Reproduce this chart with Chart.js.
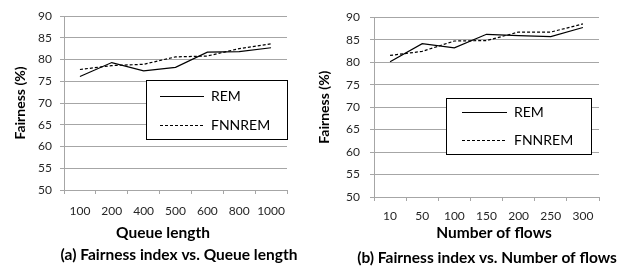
<!DOCTYPE html>
<html>
<head>
<meta charset="utf-8">
<script src="https://cdn.jsdelivr.net/npm/chart.js@4.4.1/dist/chart.umd.min.js"></script>
<style>
  body { margin: 0; background: #fff; }
  .wrap { position: absolute; top: 0; width: 313px; height: 266px; }
</style>
</head>
<body>
<div class="wrap" style="left:0"><canvas id="chartQueue"></canvas></div>
<div class="wrap" style="left:313px"><canvas id="chartFlows"></canvas></div>
<script>
// Data
const queueLengths = ["100", "200", "400", "500", "600", "800", "1000"];
const remByQueue = [76.1, 79.3, 77.4, 78.2, 81.7, 81.8, 82.7];
const fnnremByQueue = [77.7, 78.6, 78.9, 80.6, 80.8, 82.5, 83.6];

const flowCounts = ["10", "50", "100", "150", "200", "250", "300"];
const remByFlows = [80.1, 84.1, 83.2, 86.2, 85.9, 85.7, 87.7];
const fnnremByFlows = [81.5, 82.4, 84.7, 84.8, 86.7, 86.7, 88.5];

const yTicks = [50, 55, 60, 65, 70, 75, 80, 85, 90];

const gridColor = "#a6a6a6";
const fontFamily = "Lato, 'Open Sans', sans-serif";

// Bordered legend drawn inside the plot area
const boxLegend = {
    id: "boxLegend",
    afterDatasetsDraw(chart, args, opts) {
        const ctx = chart.ctx;
        ctx.save();
        ctx.fillStyle = "#fff";
        ctx.fillRect(opts.x, opts.y, opts.w, opts.h);
        ctx.strokeStyle = "#000";
        ctx.lineWidth = 1;
        ctx.strokeRect(opts.x + 0.5, opts.y + 0.5, opts.w, opts.h);
        chart.data.datasets.forEach((ds, i) => {
            let ly = opts.y + opts.firstRow + i * opts.rowGap + 0.5;
            ctx.beginPath();
            ctx.setLineDash(ds.borderDash || []);
            ctx.lineWidth = ds.borderWidth;
            ctx.moveTo(opts.x + opts.lineX, ly);
            ctx.lineTo(opts.x + opts.lineX + opts.lineLen, ly);
            ctx.stroke();
            ctx.setLineDash([]);
            ctx.fillStyle = "#000";
            ctx.font = "14px " + fontFamily;
            ctx.textBaseline = "middle";
            ctx.fillText(ds.label, opts.x + opts.lineX + opts.lineLen + 7, ly);
        });
        ctx.restore();
    }
};

// x-axis title and sub-figure caption, placed like in the original figure
const bottomTexts = {
    id: "bottomTexts",
    afterDraw(chart, args, opts) {
        const ctx = chart.ctx;
        ctx.save();
        ctx.fillStyle = "#000";
        ctx.textAlign = "center";
        ctx.textBaseline = "middle";
        opts.items.forEach(item => {
            ctx.font = "bold " + item.size + "px " + fontFamily;
            ctx.fillText(item.text, item.x, item.y);
        });
        ctx.restore();
    }
};

let makeChart = (id, labels, rem, fnnrem, cfg) => {
    const ctx = document.getElementById(id).getContext("2d");
    return new Chart(ctx, {
        type: "line",
        data: {
            labels: labels,
            datasets: [
                { label: "REM", data: rem, borderColor: "#000", borderWidth: 1.2,
                  pointRadius: 0, tension: 0, fill: false },
                { label: "FNNREM", data: fnnrem, borderColor: "#000", borderWidth: 1.2,
                  borderDash: [3, 2], pointRadius: 0, tension: 0, fill: false }
            ]
        },
        plugins: [boxLegend, bottomTexts],
        options: {
            responsive: true,
            maintainAspectRatio: false,
            animation: false,
            layout: { padding: cfg.padding },
            plugins: {
                legend: { display: false },
                tooltip: { enabled: false },
                title: { display: false },
                boxLegend: cfg.legend,
                bottomTexts: {
                    items: [
                        { text: cfg.xTitle, x: cfg.xTitlePos[0], y: cfg.xTitlePos[1], size: 15.5 },
                        { text: cfg.caption, x: cfg.captionPos[0], y: cfg.captionPos[1], size: 15.5 }
                    ]
                }
            },
            scales: {
                x: {
                    offset: true,
                    grid: { display: true, drawOnChartArea: false, drawTicks: true,
                            tickLength: 4, color: gridColor, offset: true },
                    border: { display: true, color: gridColor },
                    ticks: { color: "#262626", padding: cfg.xTickPad, autoSkip: false,
                             maxRotation: 0, minRotation: 0,
                             font: { family: fontFamily, size: 12 } },
                    afterFit: (s) => { s.height = cfg.xHeight; }
                },
                y: {
                    min: yTicks[0],
                    max: yTicks[yTicks.length - 1],
                    afterBuildTicks: (s) => { s.ticks = yTicks.map(v => ({ value: v })); },
                    grid: { color: gridColor, tickLength: 4 },
                    border: { display: true, color: gridColor },
                    ticks: { color: "#262626", padding: cfg.yTickPad,
                             font: { family: fontFamily, size: 12 } },
                    title: { display: true, text: "Fairness (%)", color: "#000",
                             font: { family: fontFamily, size: 14, weight: "bold" },
                             padding: { top: cfg.yTitlePad, bottom: 0 } },
                    afterFit: (s) => { s.width = cfg.yWidth; }
                }
            }
        }
    });
};

makeChart("chartQueue", queueLengths, remByQueue, fnnremByQueue, {
    caption: "(a) Fairness index vs. Queue length",
    xTitle: "Queue length",
    captionPos: [179, 255],
    xTitlePos: [163, 233],
    padding: { left: 0, right: 26, top: 16, bottom: 0 },
    xHeight: 76,
    xTickPad: 10,
    yTickPad: 8,
    yTitlePad: 12,
    yWidth: 64,
    legend: { x: 146, y: 80, w: 141, h: 59, firstRow: 16, rowGap: 29, lineX: 14, lineLen: 44 }
});

makeChart("chartFlows", flowCounts, remByFlows, fnnremByFlows, {
    caption: "(b) Fairness index vs. Number of flows",
    xTitle: "Number of flows",
    captionPos: [174, 258],
    xTitlePos: [181, 233],
    padding: { left: 0, right: 27, top: 11, bottom: 0 },
    xHeight: 69,
    xTickPad: 8,
    yTickPad: 10,
    yTitlePad: 3,
    yWidth: 61,
    legend: { x: 133, y: 98, w: 145, h: 56, firstRow: 14, rowGap: 28, lineX: 16, lineLen: 45 }
});
</script>
</body>
</html>
